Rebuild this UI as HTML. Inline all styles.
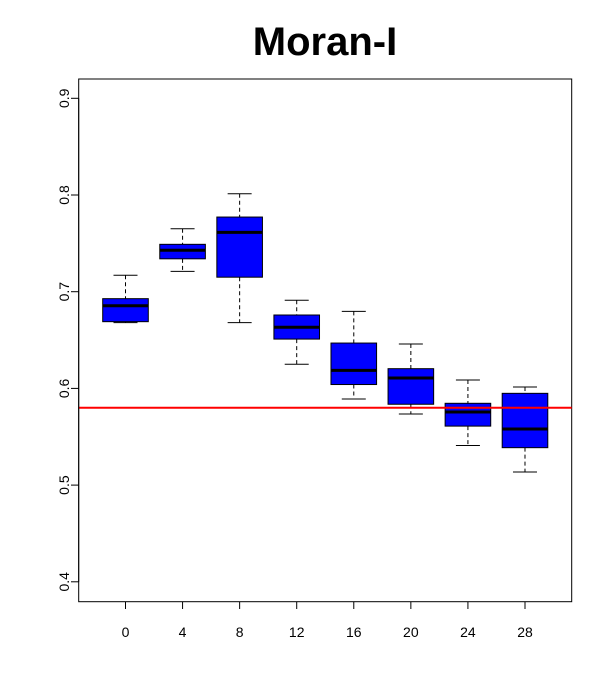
<!DOCTYPE html>
<html><head><meta charset="utf-8"><style>
html,body{margin:0;padding:0;background:#fff;}
svg{display:block;font-family:"Liberation Sans",Arial,sans-serif;}
</style></head><body>
<svg id="chart" width="612" height="700" viewBox="0 0 612 700">
<text x="325" y="55" text-anchor="middle" font-size="40" font-weight="bold">Moran-I</text>
<rect x="78.7" y="79" width="493" height="522.7" fill="none" stroke="#000" stroke-width="1"/>
<g id="boxes"></g>
<g id="yaxis"></g>
<g id="xaxis"></g>
</svg>
<script>
const categories = ["0","4","8","12","16","20","24","28"];
const whiskerLow = [0.668,0.721,0.668,0.625,0.589,0.5735,0.541,0.5136];
const q1 = [0.669,0.734,0.715,0.651,0.604,0.5836,0.561,0.5387];
const medians = [0.6855,0.7428,0.7614,0.6632,0.6187,0.6108,0.5756,0.558];
const q3 = [0.6928,0.749,0.7772,0.6759,0.6469,0.6204,0.5846,0.5949];
const whiskerHigh = [0.717,0.7651,0.8013,0.6911,0.6797,0.6459,0.6087,0.6014];
const refLine = 0.58;
const yTicks = [0.4,0.5,0.6,0.7,0.8,0.9];

const NS="http://www.w3.org/2000/svg";
function y(v){return 291.7-(v-0.7)*967;}
function x(i){return 125.5+57.07*i;}
function mk(tag,attrs,parent){const e=document.createElementNS(NS,tag);for(const k in attrs)e.setAttribute(k,attrs[k]);parent.appendChild(e);return e;}
const gb=document.getElementById('boxes'),gy=document.getElementById('yaxis'),gx=document.getElementById('xaxis');
const hw=22.8,cw=12;
categories.forEach((c,i)=>{
  const cx=x(i);
  const g=mk('g',{},gb);
  
  
  const w1=mk('line',{x1:cx,x2:cx,y1:y(whiskerHigh[i]),y2:y(q3[i]),stroke:'#000','stroke-dasharray':'4,3'},g);
  
  
  const w2=mk('line',{x1:cx,x2:cx,y1:y(q1[i]),y2:y(whiskerLow[i]),stroke:'#000','stroke-dasharray':'4,3'},g);
  
  
  const c1=mk('line',{x1:cx-cw,x2:cx+cw,y1:y(whiskerHigh[i]),y2:y(whiskerHigh[i]),stroke:'#000'},g);
  
  
  const c2=mk('line',{x1:cx-cw,x2:cx+cw,y1:y(whiskerLow[i]),y2:y(whiskerLow[i]),stroke:'#000'},g);
  
  
  const r=mk('rect',{x:cx-hw,y:y(q3[i]),width:2*hw,height:y(q1[i])-y(q3[i]),fill:'#0000ff',stroke:'#000'},g);
  
  
  const m=mk('line',{x1:cx-hw,x2:cx+hw,y1:y(medians[i]),y2:y(medians[i]),stroke:'#000','stroke-width':3},g);
  
  
  const t=mk('line',{x1:cx,x2:cx,y1:601.7,y2:609,stroke:'#000'},gx);
  
  
  const l=mk('text',{x:cx,y:637,'text-anchor':'middle','font-size':14},gx);
  l.textContent=c;
  
  
});
const rl=mk('line',{x1:78.7,x2:571.7,y1:y(refLine),y2:y(refLine),stroke:'#ff0000','stroke-width':2},gb);


yTicks.forEach(v=>{
  const t=mk('line',{x1:71,x2:78.7,y1:y(v),y2:y(v),stroke:'#000'},gy);
  
  
  const l=mk('text',{x:0,y:0,'text-anchor':'middle','font-size':14,transform:`translate(69,${y(v)}) rotate(-90)`},gy);
  l.textContent=v.toFixed(1);
  
  
});
const ya=mk('line',{x1:78.7,x2:78.7,y1:y(0.4),y2:y(0.9),stroke:'#000'},gy);


</script>
</body></html>
